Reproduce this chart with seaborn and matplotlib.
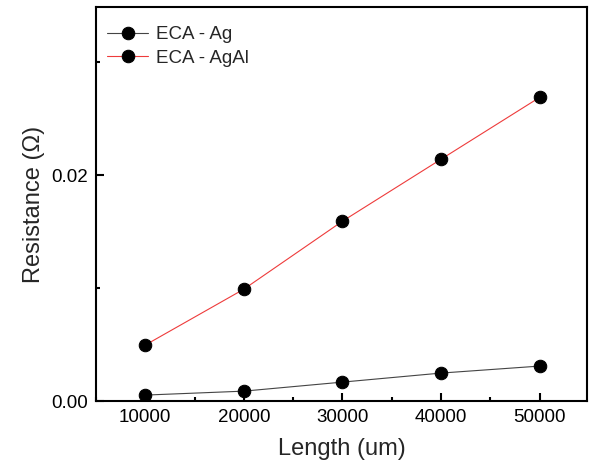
import numpy as np
import pandas as pd
import matplotlib
matplotlib.use("Agg")
import matplotlib.pyplot as plt
from matplotlib.ticker import MultipleLocator
import seaborn as sns

length = [10000, 20000, 30000, 40000, 50000]
res_ag = [0.00053, 0.00088, 0.00168, 0.00248, 0.0031]
res_agal = [0.00496, 0.00991, 0.01593, 0.02142, 0.0269]

sns.set_style("ticks")
plt.rcParams['font.family'] = ['Liberation Sans', 'DejaVu Sans']

fig = plt.figure(figsize=(5.92, 4.68), dpi=100)
ax = fig.add_axes([0.162, 0.143, 0.8296, 0.842])

sns.lineplot(x=length, y=res_ag, ax=ax, color='#444444', linewidth=0.8,
             marker='o', markersize=9, markerfacecolor='black',
             markeredgecolor='black', label='ECA - Ag')
sns.lineplot(x=length, y=res_agal, ax=ax, color='#ee3b3b', linewidth=0.8,
             marker='o', markersize=9, markerfacecolor='black',
             markeredgecolor='black', label='ECA - AgAl')

ax.set_xlim(5000, 54800)
ax.set_ylim(0, 0.0349)
ax.xaxis.set_major_locator(MultipleLocator(10000))
ax.xaxis.set_minor_locator(MultipleLocator(5000))
ax.yaxis.set_major_locator(MultipleLocator(0.02))
ax.yaxis.set_minor_locator(MultipleLocator(0.01))
ax.yaxis.set_major_formatter(matplotlib.ticker.FormatStrFormatter('%.2f'))

ax.tick_params(which='both', direction='in', top=False, right=False,
               labelsize=13.5, width=1.5, colors='black')
ax.tick_params(which='major', length=6, pad=6)
ax.tick_params(which='minor', length=3)
for s in ax.spines.values():
    s.set_linewidth(1.5)
    s.set_color('black')

ax.set_xlabel('Length (um)', fontsize=17, labelpad=8)
ax.set_ylabel('Resistance (Ω)', fontsize=17, labelpad=4)

ax.legend(loc='upper left', bbox_to_anchor=(0.0, 0.98), frameon=False,
          fontsize=13.5, handlelength=2.2, borderaxespad=0.3,
          labelspacing=0.35, handletextpad=0.4, borderpad=0.3)

fig.savefig('out.png', dpi=100)
